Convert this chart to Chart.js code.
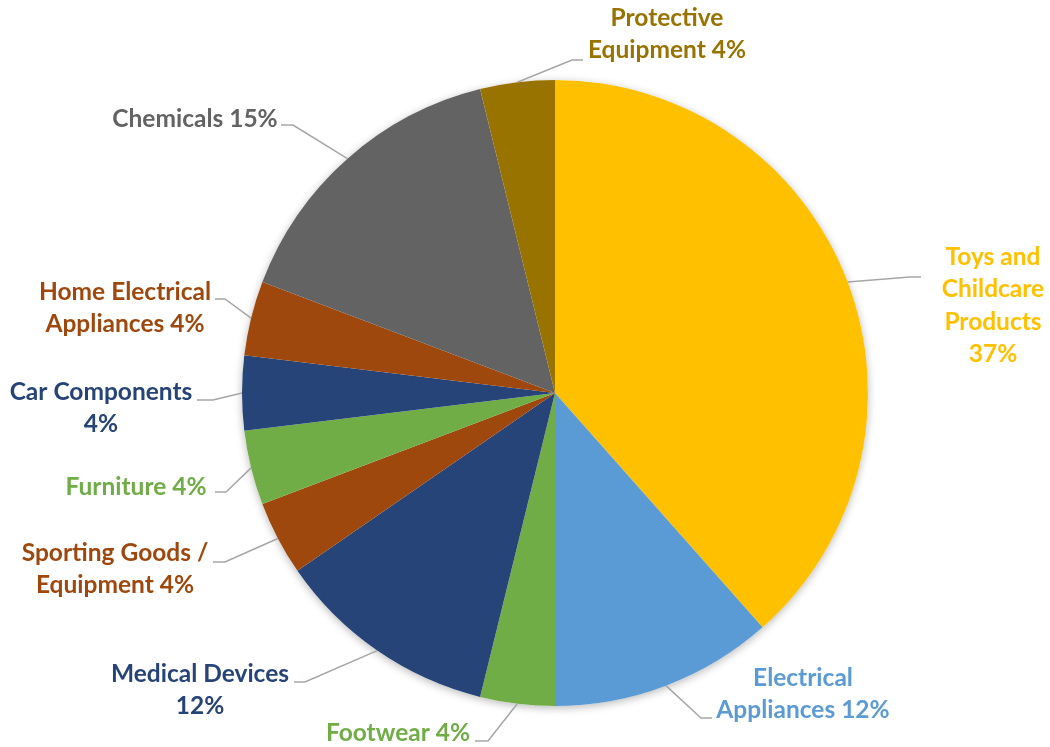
<!DOCTYPE html>
<html>
<head>
<meta charset="utf-8">
<script src="https://cdn.jsdelivr.net/npm/chart.js@4.4.1/dist/chart.umd.min.js"></script>
<style>
  html, body { margin: 0; padding: 0; background: #fff; }
  #wrap { width: 1050px; height: 747px; }
</style>
</head>
<body>
<div id="wrap"><canvas id="pie"></canvas></div>
<script>
// categories, clockwise from 12 o'clock
const categories = ['Toys and Childcare Products', 'Electrical Appliances', 'Footwear', 'Medical Devices',
    'Sporting Goods / Equipment', 'Furniture', 'Car Components', 'Home Electrical Appliances',
    'Chemicals', 'Protective Equipment'];
// slice sizes (counts)
const counts = [10, 3, 1, 3, 1, 1, 1, 1, 4, 1];
// percentages as printed on the labels
const pctLabels = ['37%', '12%', '4%', '12%', '4%', '4%', '4%', '4%', '15%', '4%'];
const colors = ['#FFC000', '#5B9BD5', '#70AD47', '#264478', '#9E480E', '#70AD47', '#264478', '#9E480E', '#636363', '#997300'];

// label placement: text centre x, first line y, words per line, elbow + end of leader line
const labelLayout = [
    { x: 993, y: 257, lines: [2, 1, 1, 1], elbow: [910, 277], end: [921, 277] },
    { x: 803, y: 678, lines: [1, 2], elbow: [701, 718], end: [712, 718] },
    { x: 398, y: 733, lines: [2], elbow: [488, 741], end: [475, 741] },
    { x: 200, y: 674, lines: [2, 1], elbow: [305, 682], end: [294, 682] },
    { x: 115, y: 553, lines: [3, 2], elbow: [225, 562], end: [213, 562] },
    { x: 136, y: 487, lines: [2], elbow: [226, 492], end: [215, 492] },
    { x: 101, y: 392, lines: [2, 1], elbow: [213, 400], end: [197, 400] },
    { x: 125, y: 292, lines: [2, 2], elbow: [225, 299], end: [215, 299] },
    { x: 195, y: 119, lines: [2], elbow: [293, 125], end: [281, 125] },
    { x: 667, y: 18, lines: [1, 2], elbow: [572, 60], end: [583, 60] }
];

const pieShadow = {
    id: 'pieShadow',
    beforeDatasetsDraw(chart) {
        const arc = chart.getDatasetMeta(0).data[0];
        const ctx = chart.ctx;
        ctx.save();
        ctx.shadowColor = 'rgba(0,0,0,0.28)';
        ctx.shadowBlur = 9;
        ctx.shadowOffsetY = 2;
        ctx.fillStyle = '#fff';
        ctx.beginPath();
        ctx.arc(arc.x, arc.y, arc.outerRadius, 0, Math.PI * 2);
        ctx.fill();
        ctx.restore();
    }
};

const outsideLabels = {
    id: 'outsideLabels',
    afterDatasetsDraw(chart) {
        const ctx = chart.ctx;
        const meta = chart.getDatasetMeta(0);
        ctx.save();
        meta.data.forEach((arc, i) => {
            const lay = labelLayout[i];
            const mid = (arc.startAngle + arc.endAngle) / 2;
            const sx = arc.x + Math.cos(mid) * arc.outerRadius;
            const sy = arc.y + Math.sin(mid) * arc.outerRadius;
            ctx.strokeStyle = '#A6A6A6';
            ctx.lineWidth = 1.5;
            ctx.beginPath();
            ctx.moveTo(sx, sy);
            ctx.lineTo(lay.elbow[0], lay.elbow[1]);
            ctx.lineTo(lay.end[0], lay.end[1]);
            ctx.stroke();

            const words = (categories[i] + ' ' + pctLabels[i]).split(' ');
            let k = 0;
            ctx.fillStyle = colors[i];
            ctx.font = 'bold 24.5px Lato';
            ctx.textAlign = 'center';
            ctx.textBaseline = 'middle';
            lay.lines.forEach((n, j) => {
                const line = words.slice(k, k + n).join(' ');
                k += n;
                ctx.fillText(line, lay.x, lay.y + j * 32.5);
            });
        });
        ctx.restore();
    }
};

new Chart(document.getElementById('pie'), {
    type: 'pie',
    data: {
        labels: categories,
        datasets: [{
            data: counts,
            backgroundColor: colors,
            borderWidth: 0
        }]
    },
    options: {
        responsive: true,
        maintainAspectRatio: false,
        animation: false,
        layout: { padding: { left: 60, right: 0, top: 80, bottom: 41 } },
        plugins: {
            legend: { display: false },
            tooltip: { enabled: false }
        }
    },
    plugins: [pieShadow, outsideLabels]
});
</script>
</body>
</html>
